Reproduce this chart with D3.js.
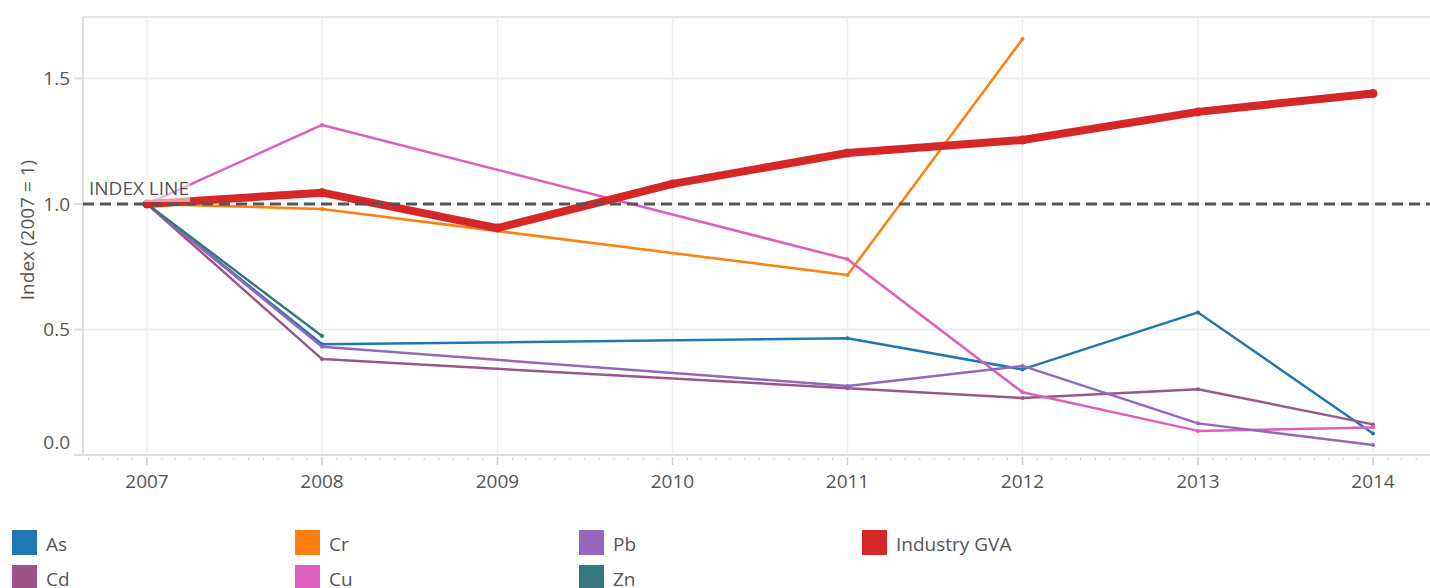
<!DOCTYPE html>
<meta charset="utf-8">
<title>Metal emissions vs industry GVA</title>
<style>
  body { margin: 0; background: #fff; font-family: "Open Sans", sans-serif; }
  text { font-family: "Open Sans", sans-serif; fill: #555; }
</style>
<body>
<div id="chart"></div>
<script src="https://cdn.jsdelivr.net/npm/d3@7"></script>
<script>

// years with data
var metalYears = [2007, 2008, 2011, 2012, 2013, 2014]
var gvaYears = [2007, 2008, 2009, 2010, 2011, 2012, 2013, 2014]

// index values (2007 = 1), null = no data
var asValues = [1.0, 0.441, 0.465, 0.341, 0.568, 0.086]
var cdValues = [1.0, 0.382, 0.266, 0.227, 0.262, 0.122]
var crValues = [1.0, 0.980, 0.717, 1.657, null, null]
var cuValues = [1.0, 1.315, 0.780, 0.250, 0.096, 0.110]
var pbValues = [1.0, 0.431, 0.275, 0.355, 0.126, 0.040]
var znValues = [1.0, 0.474, null, null, null, null]
var gvaValues = [1.0, 1.045, 0.904, 1.080, 1.203, 1.255, 1.367, 1.440]

var seriesNames = ["As", "Cd", "Cr", "Cu", "Pb", "Zn", "Industry GVA"]
var seriesColors = ["#1f77b4", "#9b5587", "#ff7f0e", "#dc5fbd", "#9467bd", "#367779", "#d62728"]

var yTicks = [0, 0.5, 1.0, 1.5]
var xTickYears = [2007, 2008, 2009, 2010, 2011, 2012, 2013, 2014]

var W = 1430, H = 588
var pLeft = 83, pRight = 1430, pTop = 17, pBottom = 455
var fontSize = "19px"

var svg = d3.select("#chart").append("svg")
  .attr("width", W)
  .attr("height", H)

var yr = function(v) { return new Date(v, 0, 1) }

var x = d3.scaleTime()
  .domain([yr(2007), yr(2014)])
  .range([147, 1373])

var y = d3.scaleLinear()
  .domain([0, 1.745])
  .range([pBottom, pTop])

// grid
svg.append("g").selectAll("line")
  .data(xTickYears)
  .enter().append("line")
    .attr("x1", function(d) { return x(yr(d)) })
    .attr("x2", function(d) { return x(yr(d)) })
    .attr("y1", pTop)
    .attr("y2", pBottom)
    .style("stroke", "#eee")
    .style("stroke-width", 1.5)

svg.append("g").selectAll("line")
  .data(yTicks.filter(function(d) { return d > 0 }))
  .enter().append("line")
    .attr("x1", pLeft)
    .attr("x2", pRight)
    .attr("y1", function(d) { return y(d) })
    .attr("y2", function(d) { return y(d) })
    .style("stroke", "#eee")
    .style("stroke-width", 2)

// frame: top line, left axis, bottom axis
svg.append("line").attr("x1", pLeft).attr("x2", pRight).attr("y1", pTop).attr("y2", pTop)
  .style("stroke", "#ddd").style("stroke-width", 1.5)
svg.append("line").attr("x1", pLeft).attr("x2", pLeft).attr("y1", pTop).attr("y2", pBottom)
  .style("stroke", "#ddd").style("stroke-width", 2)
svg.append("line").attr("x1", 74).attr("x2", pRight).attr("y1", pBottom).attr("y2", pBottom)
  .style("stroke", "#ddd").style("stroke-width", 2)

// y ticks
var yAxis = svg.append("g")
yAxis.selectAll("line")
  .data(yTicks)
  .enter().append("line")
    .attr("x1", 74).attr("x2", pLeft)
    .attr("y1", function(d) { return y(d) })
    .attr("y2", function(d) { return y(d) })
    .style("stroke", "#ddd")
    .style("stroke-width", 2)
yAxis.selectAll("text")
  .data(yTicks)
  .enter().append("text")
    .attr("x", 70)
    .attr("y", function(d) { return d === 0 ? y(d) - 13 : y(d) })
    .attr("dy", "0.35em")
    .attr("text-anchor", "end")
    .style("font-size", fontSize)
    .text(function(d) { return d3.format(".1f")(d) })

// x minor ticks (monthly)
var months = d3.timeMonth.range(x.invert(pLeft), x.invert(pRight))
svg.append("g").selectAll("line")
  .data(months.filter(function(d) { return d.getMonth() !== 0 }))
  .enter().append("line")
    .attr("x1", function(d) { return x(d) })
    .attr("x2", function(d) { return x(d) })
    .attr("y1", pBottom + 3)
    .attr("y2", pBottom + 5)
    .style("stroke", "#ccc")
    .style("stroke-width", 1)

// x major ticks and labels
var xAxis = svg.append("g")
xAxis.selectAll("line")
  .data(xTickYears)
  .enter().append("line")
    .attr("x1", function(d) { return x(yr(d)) })
    .attr("x2", function(d) { return x(yr(d)) })
    .attr("y1", pBottom + 2)
    .attr("y2", pBottom + 10)
    .style("stroke", "#ccc")
    .style("stroke-width", 1.5)
xAxis.selectAll("text")
  .data(xTickYears)
  .enter().append("text")
    .attr("x", function(d) { return x(yr(d)) })
    .attr("y", 488)
    .attr("text-anchor", "middle")
    .style("font-size", fontSize)
    .text(function(d) { return d })

svg.append("text")
  .attr("transform", "translate(34," + ((pTop + pBottom) / 2 - 6) + ") rotate(-90)")
  .attr("text-anchor", "middle")
  .style("font-size", fontSize)
  .text("Index (2007 = 1)")

// series
var metalSeries = [asValues, cdValues, crValues, cuValues, pbValues, znValues]
var series = metalSeries.map(function(vals, i) {
  return {
    name: seriesNames[i],
    color: seriesColors[i],
    width: 2.5,
    r: 2,
    points: metalYears.map(function(yy, j) { return { year: yy, v: vals[j] } })
      .filter(function(p) { return p.v !== null })
  }
})
series.push({
  name: seriesNames[6],
  color: seriesColors[6],
  width: 8,
  r: 4.5,
  points: gvaYears.map(function(yy, j) { return { year: yy, v: gvaValues[j] } })
})

var line = d3.line()
  .x(function(d) { return x(yr(d.year)) })
  .y(function(d) { return y(d.v) })

var lines = svg.append("g")
series.forEach(function(s) {
  var g = lines.append("g")
  g.append("path")
    .datum(s.points)
    .attr("d", line)
    .style("fill", "none")
    .style("stroke", s.color)
    .style("stroke-width", s.width)
    .style("stroke-linejoin", "round")
    .style("stroke-linecap", "round")
  g.selectAll("circle")
    .data(s.points)
    .enter().append("circle")
      .attr("cx", function(d) { return x(yr(d.year)) })
      .attr("cy", function(d) { return y(d.v) })
      .attr("r", s.r)
      .style("fill", s.color)
})

// index line
svg.append("line")
  .attr("x1", pLeft).attr("x2", pRight)
  .attr("y1", y(1)).attr("y2", y(1))
  .style("stroke", "#555")
  .style("stroke-width", 3)
  .style("stroke-dasharray", "11,6")

svg.append("rect")
  .attr("x", 86).attr("y", 177)
  .attr("width", 104).attr("height", 25)
  .style("fill", "#fff")
  .style("opacity", 0.55)

svg.append("text")
  .attr("x", 89)
  .attr("y", 195)
  .style("font-size", fontSize)
  .text("INDEX LINE")

// legend, filled column by column in 2 rows
var legendCols = [12, 295, 579, 862]
var legend = svg.append("g").selectAll("g")
  .data(seriesNames)
  .enter().append("g")
    .attr("transform", function(d, i) {
      var col = Math.floor(i / 2), row = i % 2
      return "translate(" + legendCols[col] + "," + (530 + row * 35) + ")"
    })
legend.append("rect")
  .attr("width", 25)
  .attr("height", 25)
  .style("fill", function(d, i) { return seriesColors[i] })
legend.append("text")
  .attr("x", 34)
  .attr("y", 21)
  .style("font-size", fontSize)
  .text(function(d) { return d })

</script>
</body>
